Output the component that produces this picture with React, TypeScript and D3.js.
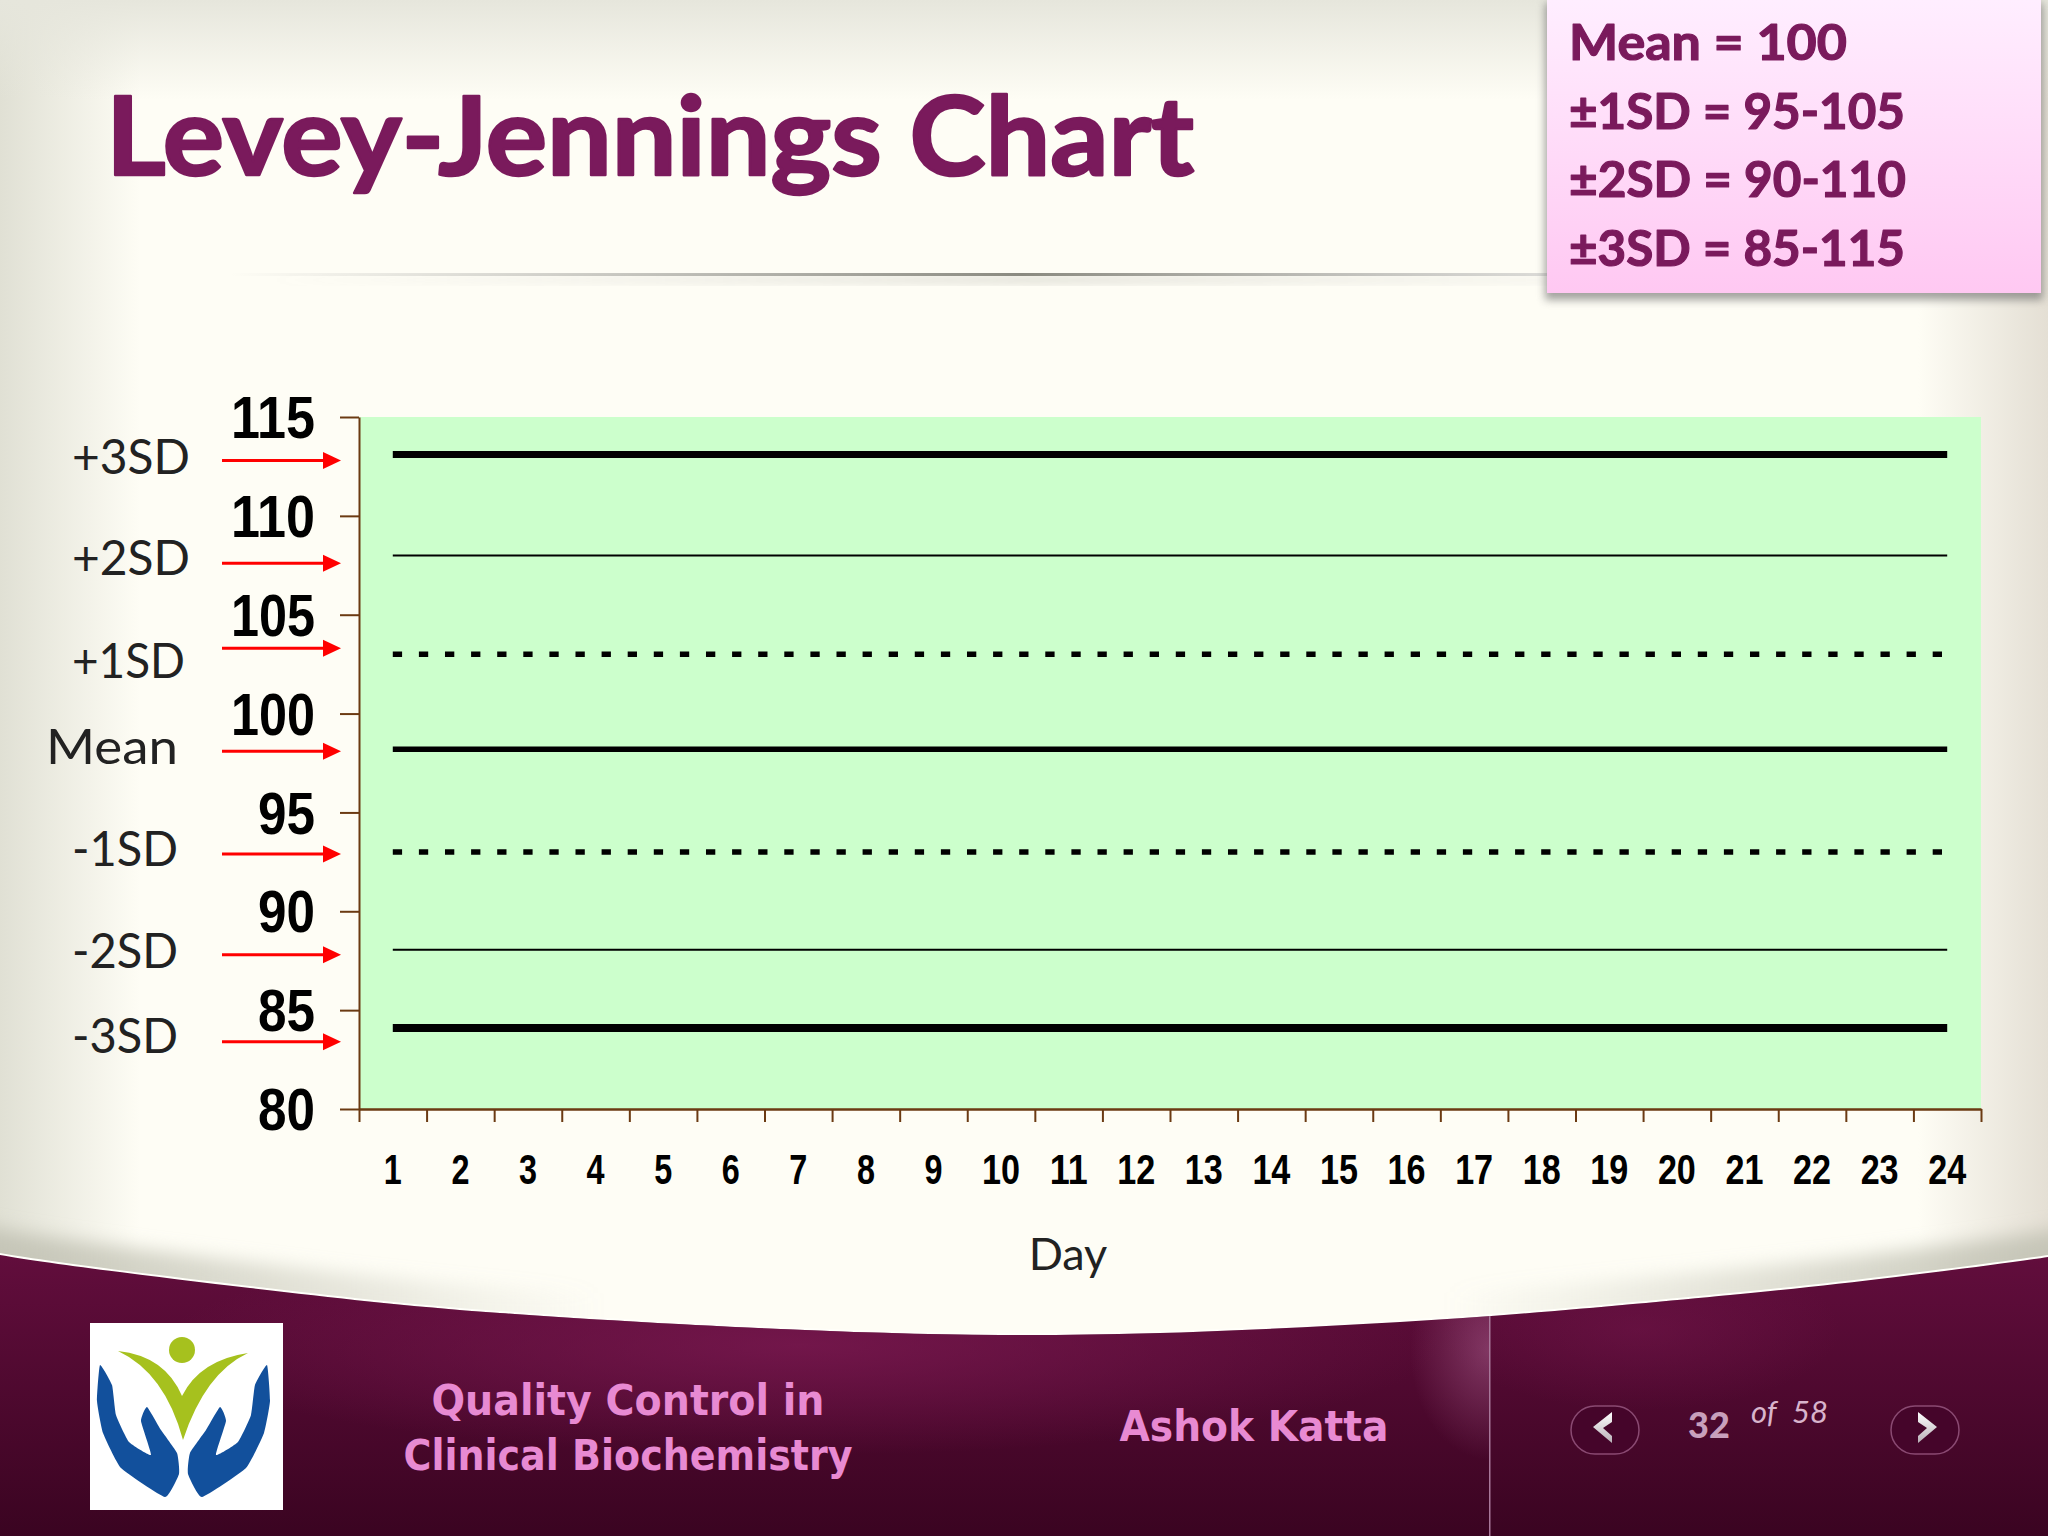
import { useEffect, useRef } from 'react'
import * as d3 from 'd3'

const days = d3.range(1, 25)
const yTicks = [80, 85, 90, 95, 100, 105, 110, 115]

// where each control line sits, read against the printed axis
const levelValues = [113.1, 108, 103, 98.2, 93, 88.05, 84.1]
const levelWidths = [7, 2, 5.5, 5.5, 5.5, 2, 8]
const levelDashed = [false, false, true, false, true, false, false]

const sdLabels = ['+3SD', '+2SD', '+1SD', 'Mean', '-1SD', '-2SD', '-3SD']
const sdLabelValues = [113, 107.85, 102.65, 98.3, 93.15, 88, 83.7]
const arrowValues = [112.8, 107.6, 103.3, 98.1, 92.9, 87.8, 83.4]

const boxLines = ['Mean = 100', '±1SD = 95-105', '±2SD = 90-110', '±3SD = 85-115']

const W = 2048
const H = 1536
const plum = '#7a1a5c'
const narrow = '"Liberation Sans", sans-serif'

// logo outlines, in the logo's own 203 x 196 box
const handOutline: [number, number][] = [
  [15, 47], [12, 83], [18, 115], [36, 150], [80, 179], [94, 156], [92, 135], [76, 112], [62, 89], [56, 103], [66, 137], [44, 124], [31, 97], [27, 67],
]

export default function App() {
  const svgRef = useRef<SVGSVGElement>(null)

  useEffect(() => {
    if (!svgRef.current) return
    const svg = d3.select(svgRef.current)
    svg.selectAll('*').remove()
    svg.attr('width', W).attr('height', H).attr('viewBox', `0 0 ${W} ${H}`)

    const defs = svg.append('defs')
    const stops = (g: any, list: [string, string, number?][]) => {
      list.forEach(([o, c, a]) => {
        g.append('stop').attr('offset', o).attr('stop-color', c).attr('stop-opacity', a ?? 1)
      })
    }
    const linear = (id: string, x2: number, y2: number, list: [string, string, number?][]) => {
      const g = defs.append('linearGradient').attr('id', id)
        .attr('x1', 0).attr('y1', 0).attr('x2', x2).attr('y2', y2)
      stops(g, list)
    }
    linear('bg-left', 1, 0, [['0%', '#e0e0d4'], ['100%', '#e0e0d4', 0]])
    linear('bg-right', 1, 0, [['0%', '#e4dfd4', 0], ['100%', '#e4dfd4']])
    linear('bg-top', 0, 1, [['0%', '#e6e6dc'], ['100%', '#e6e6dc', 0]])
    linear('box-fill', 0, 1, [['0%', '#ffeeff'], ['100%', '#ffc8f2']])
    linear('rule', 1, 0, [['0%', '#999', 0], ['60%', '#8a8a80'], ['100%', '#bbb', 0.5]])
    linear('band', 0, 1, [['0%', '#640e3e'], ['100%', '#3a0421']])
    linear('swoosh', 1, 0, [['0%', '#c4c4b6'], ['30%', '#c4c4b6', 0], ['70%', '#c4c4b6', 0], ['100%', '#c4c4b6']])
    linear('chevron', 0, 1, [['0%', '#ffffff'], ['100%', '#b8b0b6']])
    const spot = defs.append('radialGradient').attr('id', 'spot')
    stops(spot, [['0%', '#7c1a52', 0.75], ['100%', '#7c1a52', 0]])
    const glow = defs.append('radialGradient').attr('id', 'glow')
    stops(glow, [['0%', '#a45a88', 0.55], ['100%', '#a45a88', 0]])
    const blur = defs.append('filter').attr('id', 'soft')
      .attr('x', '-10%').attr('y', '-20%').attr('width', '120%').attr('height', '140%')
    blur.append('feGaussianBlur').attr('stdDeviation', 4)
    const blurWide = defs.append('filter').attr('id', 'softer')
      .attr('x', '-10%').attr('y', '-20%').attr('width', '120%').attr('height', '140%')
    blurWide.append('feGaussianBlur').attr('stdDeviation', 9)

    // slide background
    svg.append('rect').attr('width', W).attr('height', H).attr('fill', '#fefdf5')
    svg.append('rect').attr('width', 140).attr('height', H).attr('fill', 'url(#bg-left)')
    svg.append('rect').attr('x', W - 130).attr('width', 130).attr('height', H).attr('fill', 'url(#bg-right)')
    svg.append('rect').attr('width', W).attr('height', 100).attr('fill', 'url(#bg-top)')

    // title rule and its shadow
    svg.append('rect').attr('x', 260).attr('y', 276).attr('width', 1290).attr('height', 8)
      .attr('fill', 'url(#rule)').attr('opacity', 0.25).attr('filter', 'url(#soft)')
    svg.append('rect').attr('x', 230).attr('y', 273).attr('width', 1320).attr('height', 3).attr('fill', 'url(#rule)')

    // footer band, shadow first
    const edge = d3.line().curve(d3.curveCatmullRom)
    const bandTop: [number, number][] = [
      [-40, 1246], [0, 1255], [250, 1288], [500, 1313], [1000, 1335], [1400, 1322], [1730, 1295], [1896, 1277], [2048, 1257], [2088, 1250],
    ]
    const bandPath = `${edge(bandTop)} L2088,${H} L-40,${H} Z`
    svg.append('path').attr('d', bandPath).attr('fill', 'url(#swoosh)').attr('filter', 'url(#softer)')
      .attr('transform', 'translate(0,-26)')
    svg.append('clipPath').attr('id', 'band-clip').append('path').attr('d', bandPath)
    svg.append('clipPath').attr('id', 'left-of-divider').append('rect').attr('width', 1490).attr('height', H)
    svg.append('path').attr('d', bandPath).attr('fill', '#fffffa').attr('transform', 'translate(0,-2)')
    const foot = svg.append('g').attr('clip-path', 'url(#band-clip)')
    foot.append('rect').attr('y', 1240).attr('width', W).attr('height', H - 1240).attr('fill', 'url(#band)')
    foot.append('ellipse').attr('cx', 800).attr('cy', 1345).attr('rx', 640).attr('ry', 110).attr('fill', 'url(#spot)')
    foot.append('ellipse').attr('cx', 1640).attr('cy', 1330).attr('rx', 200).attr('ry', 80).attr('fill', 'url(#spot)').attr('opacity', 0.5)
    foot.append('ellipse').attr('cx', 1490).attr('cy', 1350).attr('rx', 80).attr('ry', 110)
      .attr('fill', 'url(#glow)').attr('clip-path', 'url(#left-of-divider)')
    foot.append('rect').attr('x', 1489).attr('y', 1300).attr('width', 1.5).attr('height', 240).attr('fill', '#a8789a')

    // logo
    const logo = svg.append('g').attr('transform', 'translate(85,1318)')
    logo.append('rect').attr('x', 5).attr('y', 5).attr('width', 193).attr('height', 187).attr('fill', '#fff')
    logo.append('circle').attr('cx', 97).attr('cy', 32).attr('r', 13).attr('fill', '#a6c11e')
    logo.append('path').attr('fill', '#a6c11e')
      .attr('d', 'M33,33 Q80,38 97,78 Q115,42 163,35 Q120,55 98,122 Q80,55 33,33 Z')
    const hand = d3.line().curve(d3.curveCardinalClosed.tension(0.6))(handOutline) as string
    logo.append('path').attr('d', hand).attr('fill', '#12509c')
    logo.append('path').attr('d', hand).attr('fill', '#12509c').attr('transform', 'translate(197,0) scale(-1,1)')

    // chart
    const plot = { left: 359, right: 1981, top: 417, bottom: 1109 }
    const x = d3.scaleBand<number>().domain(days).range([plot.left, plot.right])
    const xEdge = d3.scaleLinear().domain([0.5, 24.5]).range([plot.left, plot.right])
    const y = d3.scaleLinear().domain([80, 115]).range([plot.bottom, plot.top])
    const dayCenter = (d: number) => x(d)! + x.bandwidth() / 2

    svg.append('rect')
      .attr('x', plot.left).attr('y', plot.top)
      .attr('width', plot.right - plot.left).attr('height', plot.bottom - plot.top)
      .attr('fill', '#ccffcc')

    levelValues.forEach((v, i) => {
      const line = d3.line<number>().x(dayCenter).y(() => y(v))
      svg.append('path').datum(days).attr('d', line)
        .attr('fill', 'none').attr('stroke', '#000')
        .attr('stroke-width', levelWidths[i])
        .attr('stroke-dasharray', levelDashed[i] ? '9.3,16.8' : null)
    })

    const axisColor = '#6b3a12'
    const yAxis = svg.append('g').attr('transform', `translate(${plot.left},0)`)
      .call(d3.axisLeft(y).tickValues(yTicks).tickSize(19).tickPadding(25).tickSizeOuter(0))
    yAxis.select('.domain').attr('stroke', axisColor).attr('stroke-width', 2)
    yAxis.selectAll('.tick line').attr('stroke', axisColor).attr('stroke-width', 2)
    yAxis.selectAll<SVGTextElement, number>('.tick text')
      .attr('font-family', narrow).attr('font-weight', 700).attr('font-size', 60).attr('fill', '#000')
      .attr('dy', '0.345em')
      .attr('textLength', d => (String(d).length === 3 ? 84 : 57))
      .attr('lengthAdjust', 'spacingAndGlyphs')

    const xTicks = svg.append('g').attr('transform', `translate(0,${plot.bottom})`)
      .call(d3.axisBottom(xEdge).tickValues(d3.range(0.5, 25)).tickSize(13).tickSizeOuter(0).tickFormat(() => ''))
    xTicks.select('.domain').attr('stroke', axisColor).attr('stroke-width', 2.5)
    xTicks.selectAll('.tick line').attr('stroke', axisColor).attr('stroke-width', 2)

    const xLabels = svg.append('g').attr('transform', `translate(0,${plot.bottom})`)
      .call(d3.axisBottom(x).tickSize(0).tickPadding(45))
    xLabels.select('.domain').remove()
    xLabels.selectAll<SVGTextElement, number>('.tick text')
      .attr('font-family', narrow).attr('font-weight', 700).attr('font-size', 42).attr('fill', '#000')
      .attr('textLength', d => (d < 10 ? 18 : 38))
      .attr('lengthAdjust', 'spacingAndGlyphs')

    svg.append('text').text('Day')
      .attr('x', 1068).attr('y', 1270).attr('text-anchor', 'middle')
      .attr('font-family', 'Lato').attr('font-size', 45).attr('fill', '#222')

    // SD annotations with red arrows
    const sdEnds = [190, 190, 185, 178, 178, 178, 178]
    const sdLengths = [118, 118, 113, 132, 106, 106, 106]
    sdLabels.forEach((t, i) => {
      svg.append('text').text(t)
        .attr('x', sdEnds[i]).attr('y', y(sdLabelValues[i]) + 17)
        .attr('text-anchor', 'end')
        .attr('textLength', sdLengths[i]).attr('lengthAdjust', 'spacingAndGlyphs')
        .attr('font-family', 'Lato').attr('font-size', 48).attr('fill', '#222')
    })
    arrowValues.forEach(v => {
      const ay = y(v)
      svg.append('line').attr('x1', 222).attr('x2', 326).attr('y1', ay).attr('y2', ay)
        .attr('stroke', '#ff0000').attr('stroke-width', 3)
      svg.append('path').attr('d', `M323,${ay - 8.5} L341,${ay} L323,${ay + 8.5} Z`).attr('fill', '#ff0000')
    })

    // title
    svg.append('text').text('Levey-Jennings Chart')
      .attr('x', 106).attr('y', 175)
      .attr('textLength', 1088).attr('lengthAdjust', 'spacingAndGlyphs')
      .attr('font-family', 'Lato').attr('font-weight', 700).attr('font-size', 109).attr('fill', plum)
      .attr('stroke', plum).attr('stroke-width', 2.5).attr('stroke-linejoin', 'round')

    // summary box
    svg.append('rect').attr('x', 1545).attr('y', 3).attr('width', 498).attr('height', 297)
      .attr('fill', '#666').attr('opacity', 0.6).attr('filter', 'url(#soft)')
    svg.append('rect').attr('x', 1547).attr('y', 0).attr('width', 494).attr('height', 293)
      .attr('fill', 'url(#box-fill)')
    const boxBaselines = [60, 129, 197, 266]
    const boxLengths = [278, 336, 337, 336]
    boxLines.forEach((t, i) => {
      svg.append('text').text(t)
        .attr('x', 1569).attr('y', boxBaselines[i])
        .attr('textLength', boxLengths[i]).attr('lengthAdjust', 'spacingAndGlyphs')
        .attr('font-family', 'Lato').attr('font-weight', 700).attr('font-size', 49).attr('fill', plum)
        .attr('stroke', plum).attr('stroke-width', 1.2).attr('stroke-linejoin', 'round')
    })

    // footer text
    const pink = '#e88ad2'
    const footText = (t: string, cx: number, by: number, len: number) => {
      svg.append('text').text(t)
        .attr('x', cx).attr('y', by).attr('text-anchor', 'middle')
        .attr('textLength', len).attr('lengthAdjust', 'spacingAndGlyphs')
        .attr('font-family', '"Comic Sans MS", "DejaVu Sans", sans-serif').attr('font-weight', 700)
        .attr('font-size', 42).attr('fill', pink)
    }
    footText('Quality Control in', 628, 1415, 393)
    footText('Clinical Biochemistry', 628, 1470, 449)
    footText('Ashok Katta', 1254, 1441, 269)

    svg.append('text').text('32').attr('x', 1688).attr('y', 1438)
      .attr('font-family', 'Lato').attr('font-weight', 900).attr('font-size', 36).attr('fill', '#c8a0bc')
    svg.append('text').text('of').attr('x', 1751).attr('y', 1423)
      .attr('font-family', 'Lato').attr('font-style', 'italic').attr('font-size', 31).attr('fill', '#d8b4cc')
    svg.append('text').text('58').attr('x', 1792).attr('y', 1423)
      .attr('font-family', 'Lato').attr('font-style', 'italic').attr('font-size', 31).attr('fill', '#d8b4cc')

    const button = (cx: number, dir: number) => {
      svg.append('rect').attr('x', cx - 34).attr('y', 1406).attr('width', 68).attr('height', 48).attr('rx', 24)
        .attr('fill', '#45052a').attr('stroke', '#8a4a72').attr('stroke-width', 1.5)
      const p = (dx: number, py: number) => `${cx + dx * dir},${py}`
      svg.append('path')
        .attr('d', `M${p(-12, 1427)} L${p(7, 1412)} L${p(7, 1422)} L${p(-2, 1428)} L${p(7, 1436)} L${p(7, 1443)} Z`)
        .attr('fill', 'url(#chevron)')
    }
    button(1605, 1)
    button(1925, -1)
  }, [])

  return <svg ref={svgRef} style={{ position: 'absolute', left: 0, top: 0 }} />
}
